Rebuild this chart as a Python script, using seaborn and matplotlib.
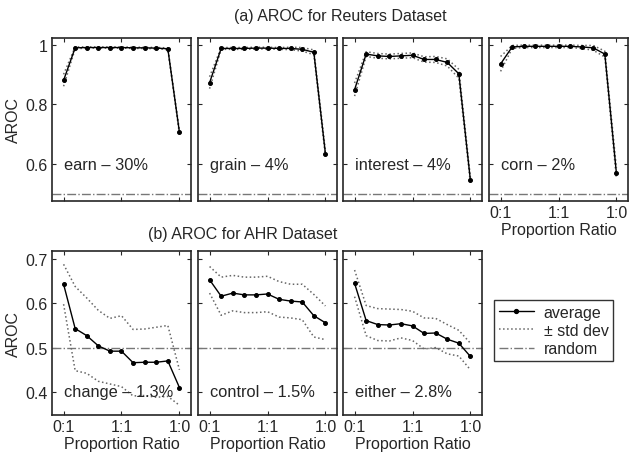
import pandas as pd
import matplotlib
matplotlib.use('Agg')
import matplotlib.pyplot as plt
from matplotlib.lines import Line2D
import seaborn as sns

sns.set_style('ticks')
plt.rcParams['font.family'] = ['Liberation Sans', 'DejaVu Sans']
plt.rcParams['font.size'] = 11.5

# x positions of the proportion ratios (0:1 ... 1:0)
ratio_pos = [0, 1, 2, 3, 4, 5, 6, 7, 8, 9, 10]
ratio_ticks = [0, 5, 10]
ratio_labels = ['0:1', '1:1', '1:0']

# (a) Reuters
reuters_names = ['earn \u2013 30%', 'grain \u2013 4%', 'interest \u2013 4%', 'corn \u2013 2%']
earn_avg = [0.881, 0.990, 0.991, 0.991, 0.991, 0.991, 0.990, 0.990, 0.989, 0.987, 0.707]
earn_std = [0.020, 0.003, 0.002, 0.002, 0.002, 0.002, 0.002, 0.002, 0.002, 0.003, 0.006]
grain_avg = [0.873, 0.988, 0.988, 0.988, 0.989, 0.989, 0.988, 0.988, 0.985, 0.975, 0.635]
grain_std = [0.020, 0.003, 0.003, 0.003, 0.003, 0.003, 0.003, 0.004, 0.006, 0.008, 0.010]
interest_avg = [0.850, 0.969, 0.963, 0.961, 0.963, 0.965, 0.951, 0.951, 0.941, 0.903, 0.545]
interest_std = [0.022, 0.008, 0.008, 0.008, 0.008, 0.008, 0.009, 0.010, 0.012, 0.015, 0.010]
corn_avg = [0.936, 0.993, 0.995, 0.995, 0.995, 0.995, 0.995, 0.993, 0.990, 0.969, 0.569]
corn_std = [0.025, 0.005, 0.004, 0.004, 0.004, 0.004, 0.004, 0.005, 0.008, 0.010, 0.018]

# (b) AHR
ahr_names = ['change \u2013 1.3%', 'control \u2013 1.5%', 'either \u2013 2.8%']
change_avg = [0.643, 0.543, 0.527, 0.504, 0.492, 0.492, 0.466, 0.467, 0.467, 0.470, 0.410]
change_std = [0.045, 0.095, 0.085, 0.080, 0.074, 0.080, 0.075, 0.075, 0.079, 0.080, 0.040]
control_avg = [0.653, 0.616, 0.623, 0.619, 0.619, 0.621, 0.609, 0.605, 0.603, 0.572, 0.556]
control_std = [0.030, 0.043, 0.040, 0.040, 0.040, 0.040, 0.040, 0.038, 0.040, 0.048, 0.038]
either_avg = [0.645, 0.561, 0.552, 0.551, 0.554, 0.549, 0.532, 0.533, 0.519, 0.510, 0.480]
either_std = [0.030, 0.034, 0.036, 0.036, 0.032, 0.033, 0.035, 0.033, 0.033, 0.029, 0.030]

random_level = 0.5

reuters_avg = [earn_avg, grain_avg, interest_avg, corn_avg]
reuters_std = [earn_std, grain_std, interest_std, corn_std]
ahr_avg = [change_avg, control_avg, either_avg]
ahr_std = [change_std, control_std, either_std]

W, H = 629, 456
fig = plt.figure(figsize=(W / 100, H / 100), dpi=100)

lefts = [52, 198, 343, 489]
pw = 139
std_col = '#666666'
rnd_col = '#777777'


def draw_panel(ax, avg, std, name, ylim, yticks, ylab):
    df = pd.DataFrame({'x': ratio_pos, 'avg': avg, 'std': std})
    df['hi'] = df['avg'] + df['std']
    df['lo'] = df['avg'] - df['std']
    ax.axhline(random_level, color=rnd_col, linestyle='-.', linewidth=1)
    sns.lineplot(data=df, x='x', y='hi', ax=ax, color=std_col, linestyle=':', linewidth=1.1)
    sns.lineplot(data=df, x='x', y='lo', ax=ax, color=std_col, linestyle=':', linewidth=1.1)
    sns.lineplot(data=df, x='x', y='avg', ax=ax, color='k', linewidth=1,
                 marker='o', markersize=2.8, markeredgecolor='k')
    ax.set_xlim(-1, 11)
    ax.set_ylim(*ylim)
    ax.set_xticks(ratio_ticks)
    ax.set_yticks(yticks)
    ax.set_xlabel('')
    ax.set_ylabel('')
    ax.tick_params(direction='in', top=True, right=True, length=3, width=0.8, pad=3)
    for s in ax.spines.values():
        s.set_visible(True)
        s.set_linewidth(1.2)
    ax.text(0, yticks[0], name, ha='left', va='center', fontsize=11.8)
    if ylab:
        ax.set_yticklabels([f'{t:g}' for t in yticks])
        ax.set_ylabel('AROC', labelpad=3)
    else:
        ax.set_yticklabels([])


# top row
for i in range(4):
    ax = fig.add_axes([lefts[i] / W, 1 - 202 / H, pw / W, (202 - 39) / H])
    draw_panel(ax, reuters_avg[i], reuters_std[i], reuters_names[i],
               (0.476, 1.023), [0.6, 0.8, 1.0], i == 0)
    if i == 3:
        ax.set_xticklabels(ratio_labels)
        ax.set_xlabel('Proportion Ratio', labelpad=1)
    else:
        ax.set_xticklabels([])

# bottom row
for i in range(3):
    ax = fig.add_axes([lefts[i] / W, 1 - 416 / H, pw / W, (416 - 252) / H])
    draw_panel(ax, ahr_avg[i], ahr_std[i], ahr_names[i],
               (0.348, 0.718), [0.4, 0.5, 0.6, 0.7], i == 0)
    ax.set_xticklabels(ratio_labels)
    ax.set_xlabel('Proportion Ratio', labelpad=1)

fig.text(340 / W, 1 - 16 / H, '(a) AROC for Reuters Dataset', ha='center', va='center', fontsize=11.5)
fig.text(243 / W, 1 - 234 / H, '(b) AROC for AHR Dataset', ha='center', va='center', fontsize=11.5)

handles = [
    Line2D([], [], color='k', linewidth=1, marker='o', markersize=2.8),
    Line2D([], [], color=std_col, linestyle=':', linewidth=1.1),
    Line2D([], [], color=rnd_col, linestyle='-.', linewidth=1),
]
leg = fig.legend(handles, ['average', '\u00b1 std dev', 'random'],
                 loc='upper left', bbox_to_anchor=(494 / W, 1 - 301 / H),
                 frameon=True, fancybox=False, edgecolor='k', fontsize=11.5,
                 handlelength=2.2, borderpad=0.3, labelspacing=0.2, handletextpad=0.6,
                 borderaxespad=0)
leg.get_frame().set_linewidth(1)

plt.savefig('out.png', dpi=100)
plt.close(fig)
